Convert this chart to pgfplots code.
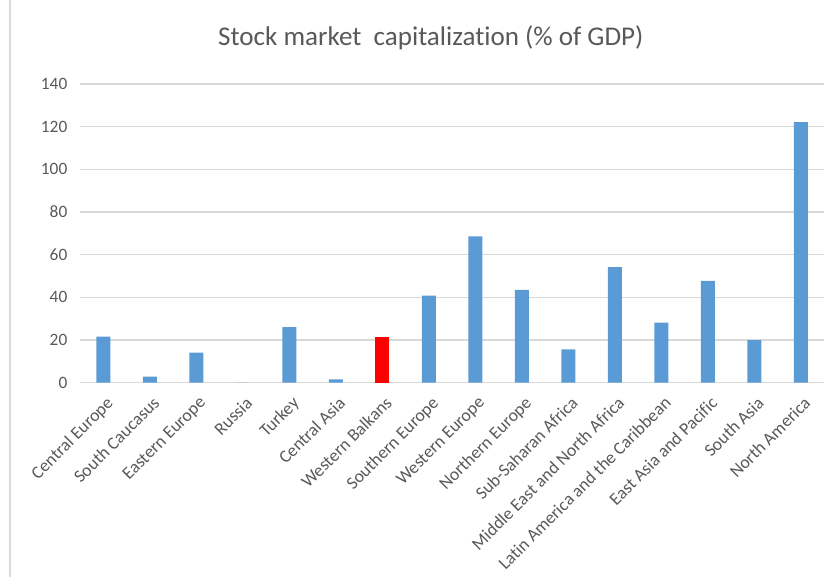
\documentclass[border=0pt]{standalone}
\usepackage{pgfplots}
\pgfplotsset{compat=1.18}
\usepackage{fontspec}
\setmainfont{Carlito}[Ligatures=NoCommon]
\definecolor{barblue}{RGB}{91,155,213}
\definecolor{txtgray}{RGB}{89,89,89}
\definecolor{gridgray}{RGB}{217,217,217}
\begin{document}
\begin{tikzpicture}
\path[use as bounding box] (-60pt,-145.7pt) rectangle (564pt,287pt);
\draw[gridgray, line width=1pt] (-52.5pt,-145.7pt) -- (-52.5pt,287pt);
\begin{axis}[
  at={(0,0)}, anchor=south west,
  scale only axis, width=558pt, height=224pt,
  xmin=-0.5, xmax=15.5, ymin=0, ymax=140,
  ytick={0,20,...,140},
  xtick={0,...,15},
  xticklabels={Central Europe,South Caucasus,Eastern Europe,Russia,Turkey,Central Asia,Western Balkans,Southern Europe,Western Europe,Northern Europe,Sub-Saharan Africa,Middle East and North Africa,Latin America and the Caribbean,East Asia and Pacific,South Asia,North America},
  axis line style={draw=none},
  major tick length=0pt,
  ymajorgrids, grid style={gridgray, line width=1pt},
  tick label style={font=\fontsize{13}{15}\selectfont, text=txtgray},
  yticklabel style={xshift=-6pt},
  xticklabel style={font=\fontsize{13.3}{15}\selectfont, xshift=1.5pt, yshift=-8pt, rotate=45, anchor=north east, inner sep=1pt},
  /pgf/number format/assume math mode=true,
  title={Stock market\ \ capitalization (\% of GDP)},
  title style={at={(0.4715,1)}, anchor=base, yshift=22.5pt, font=\fontsize{20.3}{23}\selectfont, text=txtgray},
  ybar, bar width=10.5pt, bar shift=0pt,
]
\addplot[fill=barblue, draw=none] coordinates {
(0,21.6) (1,2.8) (2,14.1) (3,0) (4,26.0) (5,1.6) (7,40.8) (8,68.6) (9,43.5) (10,15.6) (11,54.2) (12,28.1) (13,47.7) (14,19.9) (15,122.1)};
\addplot[fill=red, draw=none] coordinates {(6,21.3)};
\end{axis}
\end{tikzpicture}
\end{document}
